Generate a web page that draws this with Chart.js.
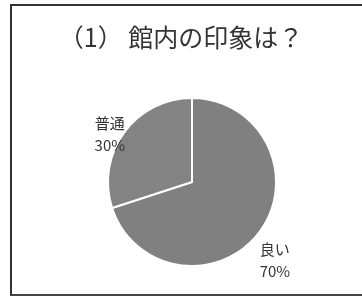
<!DOCTYPE html>
<html>
<head>
<meta charset="utf-8">
<script src="https://cdn.jsdelivr.net/npm/chart.js@4/dist/chart.umd.min.js"></script>
<style>
html,body{margin:0;padding:0;background:#fff;}
#wrap{position:relative;width:362px;height:305px;}
#frame{position:absolute;left:10px;top:4px;width:360px;height:292px;border-left:2px solid #333;border-top:2px solid #333;border-bottom:2px solid #444;box-sizing:border-box;pointer-events:none;}
canvas{position:absolute;left:0;top:0;}
</style>
</head>
<body>
<div id="wrap">
<canvas id="c" width="362" height="305"></canvas>
<div id="frame"></div>
</div>
<script>
const titleText = '（1） 館内の印象は？';
const categories = ['良い', '普通'];
const values = [70, 30];
const percentLabels = ['70%', '30%'];

// label placement style: [distance factor of radius, angle shift in degrees]
const labelPlacement = [[1.36, 7.5], [1.13, -6]];
const pieShiftLeft = 22;

const shiftPlugin = {
  id: 'shiftPie',
  afterLayout(chart) {
    chart.chartArea.left += pieShiftLeft;
    chart.chartArea.width -= pieShiftLeft;
  }
};

const labelPlugin = {
  id: 'sliceLabels',
  afterDatasetsDraw(chart) {
    const ctx = chart.ctx;
    const meta = chart.getDatasetMeta(0);
    ctx.save();
    ctx.fillStyle = '#333';
    ctx.font = '15px "Noto Sans CJK JP", sans-serif';
    ctx.textAlign = 'center';
    ctx.textBaseline = 'middle';
    meta.data.forEach((arc, i) => {
      const p = arc.getProps(['x', 'y', 'startAngle', 'endAngle', 'outerRadius'], true);
      const mid = (p.startAngle + p.endAngle) / 2 + labelPlacement[i][1] * Math.PI / 180;
      const r = p.outerRadius * labelPlacement[i][0];
      const cx = p.x + Math.cos(mid) * r;
      const cy = p.y + Math.sin(mid) * r;
      ctx.fillText(categories[i], cx, cy - 11);
      ctx.fillText(percentLabels[i], cx, cy + 11);
    });
    ctx.restore();
  }
};

new Chart(document.getElementById('c'), {
  type: 'pie',
  data: {
    labels: categories,
    datasets: [{
      data: values,
      backgroundColor: ['#808080', '#838383'],
      borderColor: '#ffffff',
      borderWidth: 2
    }]
  },
  options: {
    responsive: false,
    animation: false,
    layout: { padding: { left: 0, right: 0, top: 0, bottom: 38 } },
    plugins: {
      legend: { display: false },
      tooltip: { enabled: false },
      title: {
        display: true,
        text: titleText,
        color: '#333',
        font: { family: '"Noto Sans CJK JP", sans-serif', size: 25, weight: 'normal' },
        padding: { top: 22.5, bottom: 44.5 }
      }
    }
  },
  plugins: [shiftPlugin, labelPlugin]
});
</script>
</body>
</html>
